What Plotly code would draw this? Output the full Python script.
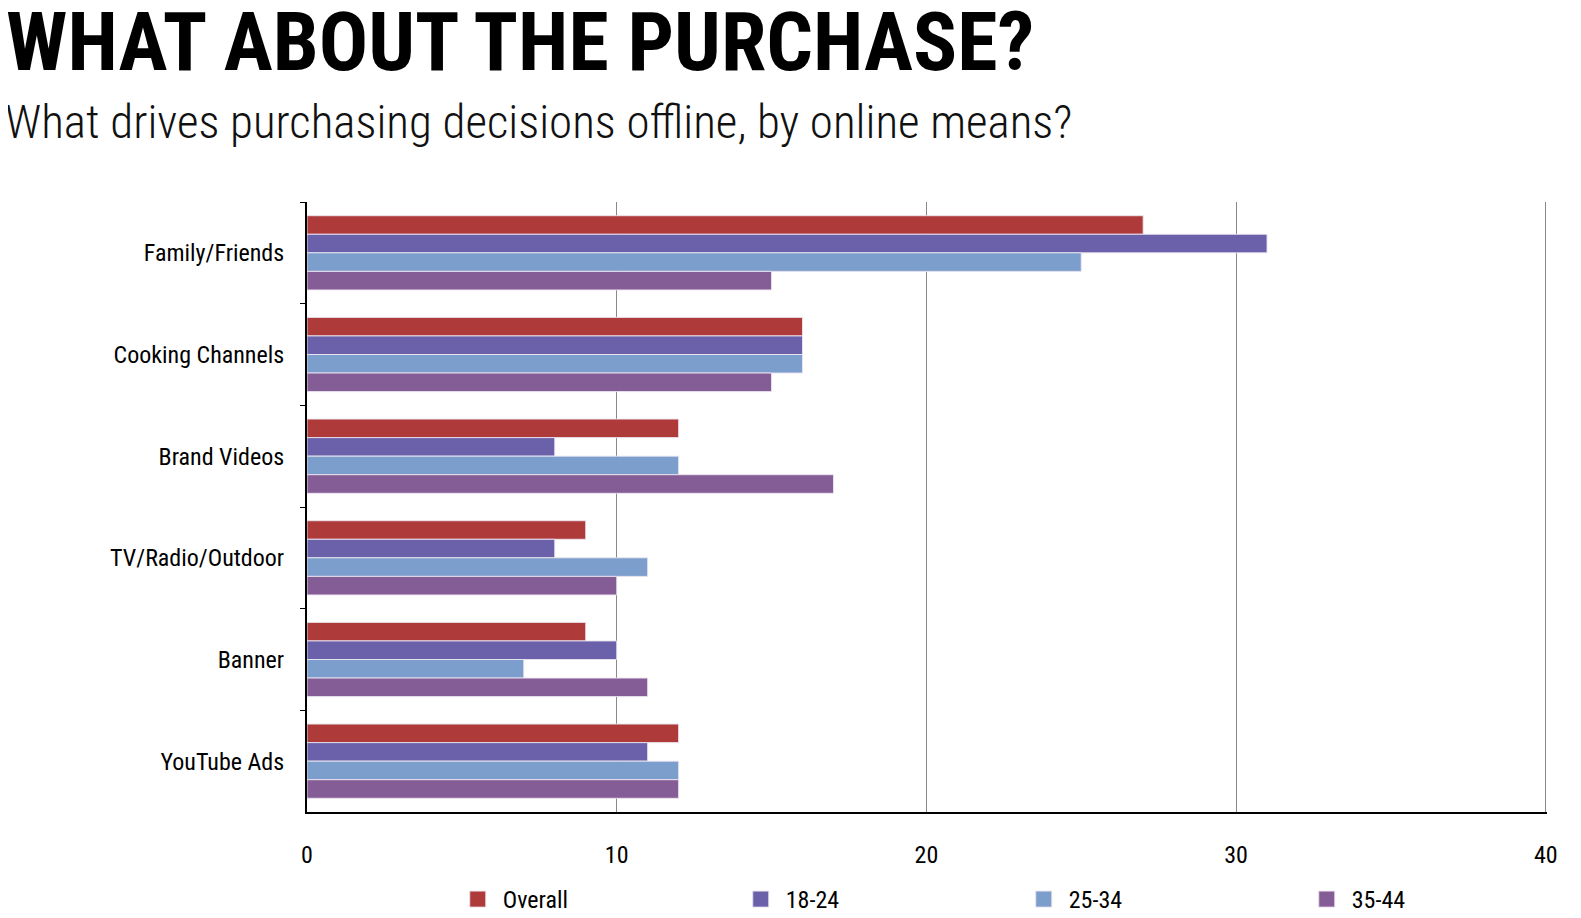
import plotly.graph_objects as go

categories = ["Family/Friends", "Cooking Channels", "Brand Videos", "TV/Radio/Outdoor", "Banner", "YouTube Ads"]
series_names = ["Overall", "18-24", "25-34", "35-44"]
overall = [27, 16, 12, 9, 9, 12]
age_18_24 = [31, 16, 8, 8, 10, 11]
age_25_34 = [25, 16, 12, 11, 7, 12]
age_35_44 = [15, 15, 17, 10, 11, 12]
colors = ["#AF3A3A", "#6B61AA", "#7C9ECC", "#845C96"]

FONT = "Roboto Condensed, Liberation Sans Narrow, DejaVu Sans Condensed, Roboto, sans-serif"

fig = go.Figure()
for name, vals, col in zip(series_names, [overall, age_18_24, age_25_34, age_35_44], colors):
    fig.add_trace(go.Bar(
        y=categories, x=vals, name=name, orientation="h", showlegend=False,
        marker=dict(color=col, line=dict(color="rgba(235,230,240,0.9)", width=1)),
    ))
for name, col in zip(series_names, colors):
    fig.add_trace(go.Scatter(
        x=[None], y=[None], mode="markers", name=name, showlegend=True,
        marker=dict(symbol="square", size=22, color=col, line=dict(color="rgba(235,225,235,0.9)", width=1)),
    ))

PW = 1240.0
PH = 610.0
H = 910.0
fig.update_layout(
    width=1573, height=910,
    paper_bgcolor="white", plot_bgcolor="white",
    margin=dict(l=299, r=34, t=194, b=106, autoexpand=False),
    barmode="group", bargap=0.27, bargroupgap=0.0,
    font=dict(family=FONT, size=24, color="black"),
    showlegend=True,
    legend=dict(orientation="h", x=0.574, xanchor="center", yref="container",
                y=1 - (877 - 8) / H, yanchor="top", bgcolor="rgba(0,0,0,0)",
                entrywidth=228, font=dict(size=24), itemwidth=40),
    annotations=[
        dict(text="<b>WHAT ABOUT THE PURCHASE?</b>", xref="paper", yref="paper",
             x=-303 / PW, y=1 + (202 - 42) / PH, xanchor="left", yanchor="middle", showarrow=False,
             font=dict(family=FONT, size=82, color="black")),
        dict(text="What drives purchasing decisions offline, by online means?", xref="paper", yref="paper",
             x=-304 / PW, y=1 + (202 - 121) / PH, xanchor="left", yanchor="middle", showarrow=False,
             font=dict(family=FONT, size=47, color="#111", weight=300)),
    ],
)
fig.update_xaxes(range=[0, 40.04], tickvals=[0, 10, 20, 30, 40], showgrid=True, gridcolor="#888", gridwidth=1,
                 showline=True, linecolor="black", linewidth=2, ticks="",
                 zeroline=False, ticklabelstandoff=20)
fig.update_yaxes(autorange="reversed", showline=True, linecolor="black", linewidth=2,
                 ticks="outside", ticklen=5, tickcolor="black", tickson="boundaries",
                 ticklabelstandoff=16, showgrid=False)

fig.write_html("out.html")
